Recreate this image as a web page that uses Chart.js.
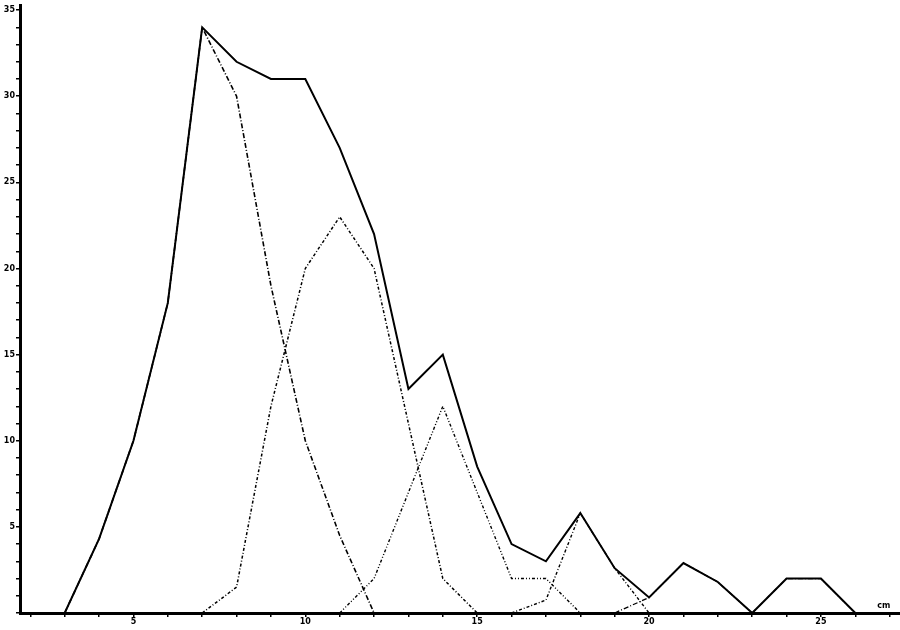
<!DOCTYPE html>
<html>
<head>
<meta charset="utf-8">
<script src="https://cdn.jsdelivr.net/npm/chart.js@4/dist/chart.umd.min.js"></script>
<style>
  body {margin: 0; background: #fff;}
</style>
</head>
<body>
<canvas id="graph" width="900" height="630"></canvas>
<script>
// lengths in cm (x) and counts (y)
const lengths = [3,4,5,6,7,8,9,10,11,12,13,14,15,16,17,18,19,20,21,22,23,24,25,26];
const total   = [0,4.3,10,18,34,32,31,31,27,22,13,15,8.5,4,3,5.8,2.6,0.9,2.9,1.8,0,2,2,0];

const groupA = {x: [3,4,5,6,7,8,9,10,11,12], y: [0,4.3,10,18,34,30,19,10,4.5,0]};
const groupB = {x: [7,8,9,10,11,12,13,14,15], y: [0,1.5,12,20,23,20,11,2,0]};
const groupC = {x: [11,12,13,14,15,16,17,18], y: [0,2,7,12,7,2,2,0]};
const groupD = {x: [16,17,18,19,20], y: [0,0.75,5.8,2.6,0]};
const groupE = {x: [19,20,21,22,23], y: [0,0.9,2.9,1.8,0]};
const groupF = {x: [23,24,25,26], y: [0,2,2,0]};

const yLabels = [5,10,15,20,25,30,35];
const xLabels = [5,10,15,20,25];

function toPoints(xs, ys) {
    return xs.map((x, i) => ({x: x, y: ys[i]}));
}

function lineSet(xs, ys, dash, width) {
    return {
        data: toPoints(xs, ys),
        borderColor: "#000",
        borderWidth: width,
        borderDash: dash,
        pointRadius: 0,
        tension: 0,
        fill: false,
        showLine: true
    };
}

// a tick mark on every whole unit of the axis
function wholeTicks(scale) {
    const ticks = [];
    for (let v = Math.ceil(scale.min); v <= Math.floor(scale.max); v++) {
        ticks.push({value: v});
    }
    scale.ticks = ticks;
}

// small "cm" note at the right end of the x axis
const cmLabel = {
    id: "cmLabel",
    afterDraw(chart) {
        const ctx = chart.ctx;
        const xs = chart.scales.x;
        ctx.save();
        ctx.font = "bold 8px 'DejaVu Sans'";
        ctx.fillStyle = "#000";
        ctx.textAlign = "center";
        ctx.textBaseline = "bottom";
        ctx.fillText("cm", xs.getPixelForValue(27) - 6, xs.top - 3);
        ctx.restore();
    }
};

var chart = new Chart("graph", {
    type: "scatter",
    data: {
        datasets: [
            lineSet(groupF.x, groupF.y, [5,2,1,2], 1.3),
            lineSet(groupE.x, groupE.y, [5,2,1,2], 1.3),
            lineSet(groupD.x, groupD.y, [3,2,1,2], 1.4),
            lineSet(groupC.x, groupC.y, [3,2,1,2,1,2], 1.4),
            lineSet(groupB.x, groupB.y, [3,2,1,2], 1.5),
            lineSet(groupA.x, groupA.y, [5,2,1,2], 1.6),
            lineSet(lengths, total, [], 2)
        ]
    },
    options: {
        responsive: false,
        animation: false,
        layout: {padding: 0},
        plugins: {legend: {display: false}, tooltip: {enabled: false}},
        scales: {
            x: {
                type: "linear",
                min: 1.7,
                max: 27.3,
                afterBuildTicks: wholeTicks,
                afterFit: s => { s.height = 17; },
                border: {color: "#000", width: 3},
                grid: {drawOnChartArea: false, color: "#000", tickLength: 4, lineWidth: 1.5},
                ticks: {
                    autoSkip: false,
                    maxRotation: 0,
                    padding: 0,
                    color: "#000",
                    font: {family: "DejaVu Sans", size: 8, weight: "bold"},
                    callback: v => xLabels.includes(v) ? String(v) : ""
                }
            },
            y: {
                min: 0,
                max: 35.25,
                afterBuildTicks: wholeTicks,
                afterFit: s => { s.width = 20; },
                border: {color: "#000", width: 3},
                grid: {drawOnChartArea: false, color: "#000", tickLength: 4, lineWidth: 1.5},
                ticks: {
                    autoSkip: false,
                    padding: 1,
                    color: "#000",
                    font: {family: "DejaVu Sans", size: 8, weight: "bold"},
                    callback: v => yLabels.includes(v) ? String(v) : ""
                }
            }
        }
    },
    plugins: [cmLabel]
});
</script>
</body>
</html>
